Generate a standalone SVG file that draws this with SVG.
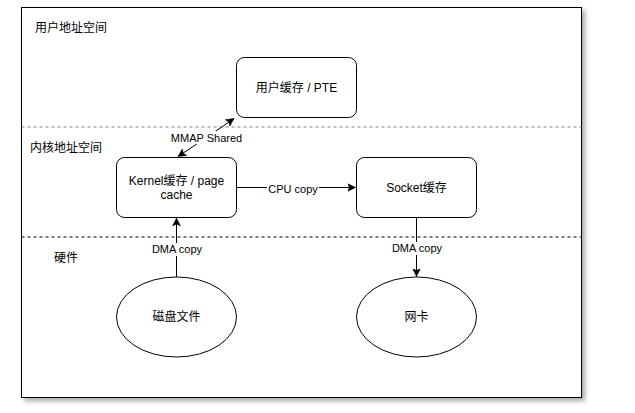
<svg xmlns="http://www.w3.org/2000/svg" width="635" height="413" viewBox="0 0 635 413">
<style>
text{font-family:"Liberation Sans","Noto Sans CJK SC",sans-serif;fill:#000}
.n{font-size:12px;text-anchor:middle;dominant-baseline:central}
.l{font-size:11px;text-anchor:middle;dominant-baseline:central}
.z{font-size:12px}
.box{fill:#fff;stroke:#000;stroke-width:1}
.e{stroke:#000;stroke-width:1;fill:none}
.lb{fill:#fff}
</style>
<defs>
<filter id="sh" x="-5%" y="-5%" width="110%" height="115%">
<feGaussianBlur in="SourceAlpha" stdDeviation="2.5"/>
<feOffset dx="3" dy="3" result="b"/>
<feComponentTransfer><feFuncA type="linear" slope="0.35"/></feComponentTransfer>
<feMerge><feMergeNode/><feMergeNode in="SourceGraphic"/></feMerge>
</filter>
<marker id="a" markerWidth="10" markerHeight="10" refX="8" refY="4" orient="auto" markerUnits="userSpaceOnUse" viewBox="0 0 10 8">
<path d="M0,0 L8,4 L0,8 L2,4 Z" fill="#000" stroke="#000" stroke-width="0.5"/>
</marker>
</defs>
<rect width="635" height="413" fill="#fff"/>
<g id="frame">
<rect x="21.5" y="7.5" width="560" height="390" fill="#fff" stroke="#000" filter="url(#sh)"/>
<line x1="21.5" y1="127" x2="581.5" y2="127" stroke="#808080" stroke-dasharray="3 3"/>
<line x1="21.5" y1="237" x2="581.5" y2="237" stroke="#000" stroke-dasharray="3 3"/>
<text class="z" x="35" y="32">用户地址空间</text>
<text class="z" x="30" y="152">内核地址空间</text>
<text class="z" x="54" y="262">硬件</text>
</g>
<g id="user">
<rect class="box" x="236.5" y="57.5" width="120" height="60" rx="8"/>
<text class="n" x="296.5" y="87.5">用户缓存 / PTE</text>
</g>
<g id="kernel">
<rect class="box" x="116.5" y="157.5" width="120" height="60" rx="8"/>
<text class="n" x="176.5" y="181">Kernel缓存 / page</text>
<text class="n" x="176.5" y="195">cache</text>
</g>
<g id="socket">
<rect class="box" x="356.5" y="157.5" width="120" height="60" rx="8"/>
<text class="n" x="416.5" y="187.5">Socket缓存</text>
</g>
<g id="disk">
<ellipse class="box" cx="176.5" cy="317" rx="60" ry="40"/>
<text class="n" x="176.5" y="317">磁盘文件</text>
</g>
<g id="nic">
<ellipse class="box" cx="416.5" cy="317" rx="60" ry="40"/>
<text class="n" x="416.5" y="317">网卡</text>
</g>
<g id="connectors">
<line class="e" x1="206.5" y1="137.5" x2="178" y2="156.5" marker-end="url(#a)"/>
<line class="e" x1="206.5" y1="137.5" x2="234" y2="118.5" marker-end="url(#a)"/>
<rect class="lb" x="170" y="131" width="73" height="13"/>
<text class="l" x="206.5" y="137.5">MMAP Shared</text>
<line class="e" x1="236.5" y1="187.5" x2="355.5" y2="187.5" marker-end="url(#a)"/>
<rect class="lb" x="267" y="182" width="52" height="13"/>
<text class="l" x="293" y="189">CPU copy</text>
<line class="e" x1="176.5" y1="277" x2="176.5" y2="218" marker-end="url(#a)"/>
<rect class="lb" x="151" y="243" width="52" height="13"/>
<text class="l" x="177" y="249">DMA copy</text>
<line class="e" x1="416.5" y1="217.5" x2="416.5" y2="276.5" marker-end="url(#a)"/>
<rect class="lb" x="391" y="242" width="52" height="13"/>
<text class="l" x="417" y="248">DMA copy</text>
</g>
</svg>
